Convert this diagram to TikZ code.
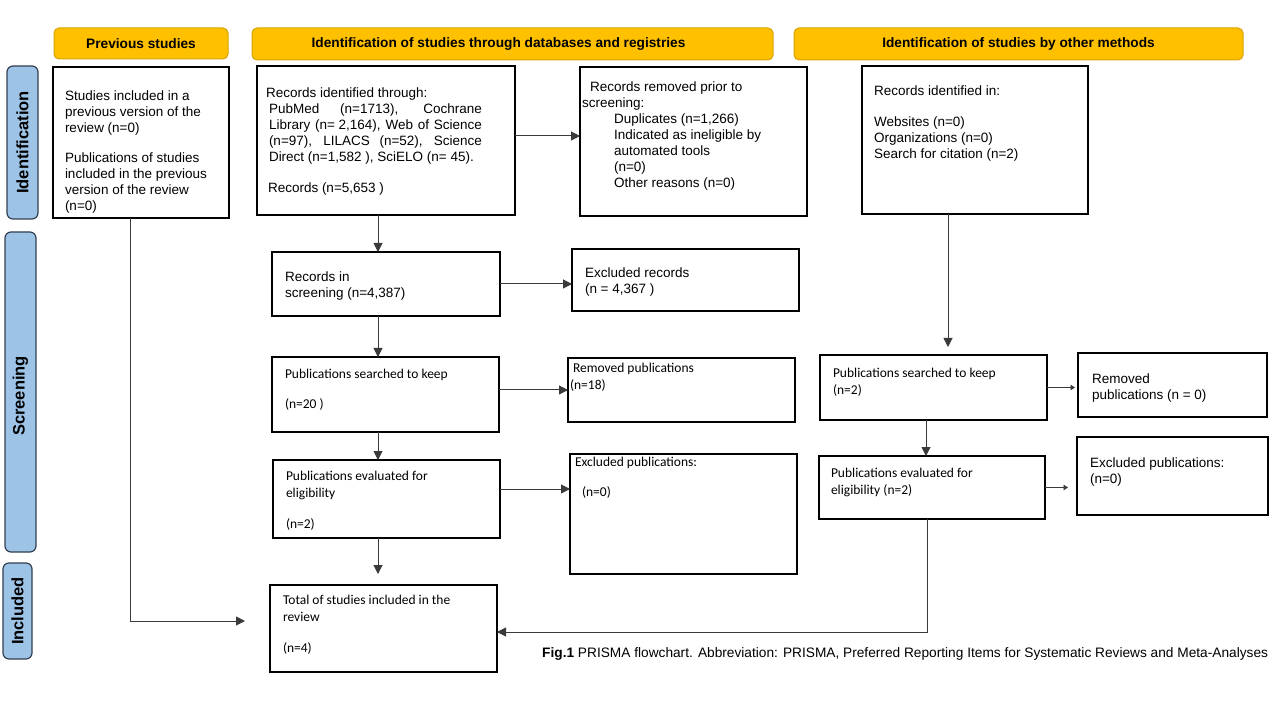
\documentclass[tikz,border=0pt]{standalone}
\usepackage{fontspec}
\setmainfont{Liberation Sans}
\newfontfamily\calfont{Carlito}
\usetikzlibrary{arrows.meta,calc}
\definecolor{hdrfill}{HTML}{FFC000}
\definecolor{hdrborder}{HTML}{D9A300}
\definecolor{sidefill}{HTML}{9DC3E6}
\definecolor{sideborder}{HTML}{33404F}
\definecolor{arrcol}{HTML}{3A3A3A}
\newcommand\atext{\fontsize{13.5}{16}\selectfont}
\newcommand\ctext{\calfont\fontsize{13.5}{17}\selectfont}
\begin{document}
\begin{tikzpicture}[x=1pt,y=-1pt,
  box/.style={draw=black, line width=1.6pt, inner sep=0pt, outer sep=0pt},
  hdr/.style={draw=hdrborder, fill=hdrfill, rounded corners=5pt, line width=1pt, inner sep=0pt, outer sep=0pt, font=\bfseries\fontsize{13.7}{15}\selectfont},
  side/.style={draw=sideborder, fill=sidefill, rounded corners=6pt, line width=1.2pt, inner sep=0pt, outer sep=0pt, rotate=90, font=\bfseries\fontsize{16.5}{18}\selectfont},
  txt/.style={anchor=north west, inner sep=0pt, outer sep=0pt, align=left, font=\atext},
  ctxt/.style={anchor=north west, inner sep=0pt, outer sep=0pt, align=left, font=\ctext},
  arr/.style={draw=arrcol, line width=1pt, -{Triangle[length=9pt,width=9pt]}},
  sarr/.style={draw=arrcol, line width=0.9pt, -{Triangle[length=4.5pt,width=5.5pt]}}
]
\useasboundingbox (0,0) rectangle (1280,708);
\fill[white] (0,0) rectangle (1280,708);

% headers
\node[hdr, minimum width=174pt, minimum height=31pt] (h1) at (141,43.5) {Previous studies};
\node[hdr, minimum width=521pt, minimum height=32pt] (h2) at (512.5,44) {Identification of studies through databases and registries\hspace*{28pt}};
\node[hdr, minimum width=449pt, minimum height=32pt] (h3) at (1018.5,44) {Identification of studies by other methods};

% side labels
\node[side, minimum width=153pt, minimum height=31pt] (s1) at (22.5,142.5) {Identification};
\node[side, minimum width=320pt, minimum height=31pt] (s2) at (20.5,392) {Screening\hspace*{8pt}};
\node[side, minimum width=96pt, minimum height=29pt] (s3) at (17.5,611) {Included};

% boxes
\node[box, minimum width=176pt, minimum height=151pt] (prev) at (141,142.5) {};
\node[box, minimum width=258pt, minimum height=149pt] (db) at (386,140.5) {};
\node[box, minimum width=227pt, minimum height=149pt] (rem) at (693.5,141.5) {};
\node[box, minimum width=226pt, minimum height=148pt] (oth) at (975,140) {};
\node[box, minimum width=228pt, minimum height=64pt] (scr) at (386,284) {};
\node[box, minimum width=227pt, minimum height=62pt] (exr) at (685.5,280) {};
\node[box, minimum width=227pt, minimum height=75pt] (pub) at (385.5,394.5) {};
\node[box, minimum width=227pt, minimum height=64pt] (rpu) at (681.5,390) {};
\node[box, minimum width=227pt, minimum height=78pt] (eva) at (386.5,499) {};
\node[box, minimum width=227pt, minimum height=120pt] (epu) at (683.5,514) {};
\node[box, minimum width=227pt, minimum height=87pt] (tot) at (383.5,628.5) {};
\node[box, minimum width=227pt, minimum height=65pt] (opu) at (933.5,387.5) {};
\node[box, minimum width=189pt, minimum height=64pt] (orp) at (1172.5,385) {};
\node[box, minimum width=226pt, minimum height=63pt] (oev) at (932,487.5) {};
\node[box, minimum width=191pt, minimum height=78pt] (oex) at (1172.5,476) {};

% texts
\node[txt] (prev-t) at (65,90.5) {Studies included in a\\previous version of the\\review (n=0)\\[14pt]Publications of studies\\included in the previous\\version of the review\\(n=0)};
\node[txt] (db-t) at (266,87.5) {Records identified through:\\
\hspace*{3pt}\makebox[213pt][s]{PubMed (n=1713), Cochrane}\\
\hspace*{3pt}\makebox[213pt][s]{Library \hbox{(n= 2,164),} Web of Science}\\
\hspace*{3pt}\makebox[213pt][s]{(n=97), LILACS (n=52), Science}\\
\hspace*{3pt}Direct (n=1,582 ), SciELO (n= 45).\\[15pt]
\hspace*{2pt}Records (n=5,653 )};
\node[txt] (rem-t) at (582,81.5) {\hspace*{8pt}Records removed prior to\\screening:\\
\hspace*{32pt}Duplicates (n=1,266)\\
\hspace*{32pt}Indicated as ineligible by\\
\hspace*{32pt}automated tools\\
\hspace*{32pt}(n=0)\\
\hspace*{32pt}Other reasons (n=0)};
\node[txt] (oth-t) at (874,85.5) {Records identified in:\\[15pt]Websites (n=0)\\Organizations (n=0)\\Search for citation (n=2)};
\node[txt] (scr-t) at (285,272) {Records in\\screening (n=4,387)};
\node[txt] (exr-t) at (585,267.5) {Excluded records\\(n = 4,367 )};
\node[ctxt] (pub-t) at (285,369.5) {Publications searched to keep\\[13pt](n=20 )};
\node[ctxt] (rpu-t) at (573,363.5) {Removed publications\\\hspace*{-3pt}(n=18)};
\node[ctxt] (eva-t) at (286,471.5) {Publications evaluated for\\eligibility\\[14pt](n=2)};
\node[ctxt] (epu-t) at (575,457.5) {Excluded publications:\\[13pt]\hspace*{7pt}(n=0)};
\node[ctxt] (tot-t) at (283,595.5) {Total of studies included in the\\review\\[14pt](n=4)};
\node[ctxt] (opu-t) at (833,368.5) {Publications searched to keep\\(n=2)};
\node[txt] (orp-t) at (1092,373.5) {Removed\\publications (n = 0)};
\node[ctxt] (oev-t) at (831,468.5) {Publications evaluated for\\eligibility (n=2)};
\node[txt] (oex-t) at (1090,457.5) {Excluded publications:\\(n=0)};

% caption
\node[anchor=west, inner sep=0pt, font=\fontsize{13.7}{15}\selectfont] (cap) at (542,654) {\textbf{Fig.1} PRISMA flowchart. Abbreviation: PRISMA, Preferred Reporting Items for Systematic Reviews and Meta-Analyses};

% connectors
\draw[arr] ($(db.east)+(0,-4.5)$) -- ($(rem.west)+(0,-5.5)$);
\draw[arr] ($(db.south)+(-8,0)$) -- ($(scr.north)+(-8,0)$);
\draw[arr] (scr.east) -- (scr.east -| exr.west);
\draw[arr] ($(scr.south)+(-8,0)$) -- ($(pub.north)+(-7.5,0)$);
\draw[arr] (rpu.west -| pub.east) -- (rpu.west);
\draw[arr] ($(pub.south)+(-7.5,0)$) -- ($(eva.north)+(-8.5,0)$);
\coordinate (e1) at ($(eva.east)+(0,-10)$);
\draw[arr] (e1) -- (e1 -| epu.west);
\coordinate (t1) at ($(eva.south)+(-8.5,36)$);
\draw[arr] ($(eva.south)+(-8.5,0)$) -- (t1);
\coordinate (t2) at ($(tot.west)+(-25,-7.5)$);
\draw[arr] ($(prev.south)+(-11,0)$) |- (t2);
\coordinate (o1) at ($(oth.south)+(-27,133)$);
\draw[arr] ($(oth.south)+(-27,0)$) -- (o1);
\coordinate (o2) at ($(opu.east -| orp.west)+(-3,0)$);
\draw[sarr] (opu.east) -- (o2);
\draw[arr] ($(opu.south)+(-7.5,0)$) -- ($(oev.north)+(-6,0)$);
\coordinate (o3) at ($(oev.east -| oex.west)+(-9,0)$);
\draw[sarr] (oev.east) -- (o3);
\draw[arr] ($(oev.south)+(-5,0)$) |- ($(tot.east)+(0,3.5)$);
\end{tikzpicture}
\end{document}
